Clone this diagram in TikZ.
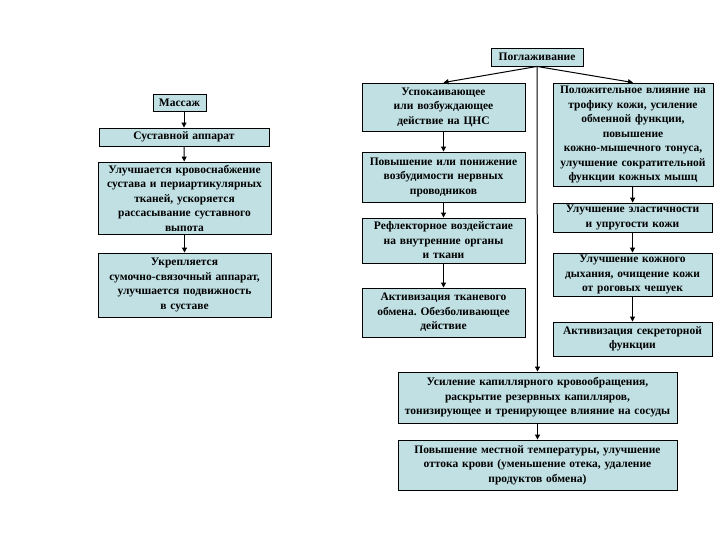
\documentclass[tikz,border=0pt]{standalone}
\usepackage{fontspec}
\setmainfont{Liberation Serif}
\usepackage{tikz}
\usetikzlibrary{arrows.meta}
\definecolor{boxfill}{RGB}{192,224,228}
\frenchspacing

\begin{document}
\begin{tikzpicture}[x=1pt,y=-1pt]
\tikzset{blok/.style={draw=black, fill=boxfill, line width=0.9pt, align=center,
  inner xsep=1pt, inner ysep=1pt, font=\fontsize{11.5}{14.5}\selectfont\bfseries},
  strelka/.style={line width=1pt, -{Triangle[length=5pt,width=5pt]}}}
\useasboundingbox (0,0) rectangle (720,540);
% left column
\node[blok, text width=51, minimum height=17] (massazh) at (179.5,102.5) {Массаж};
\node[blok, text width=168, minimum height=18] (sustav) at (184,137) {Суставной аппарат};
\node[blok, text width=171, minimum height=72] (krov) at (184.5,198) {Улучшается кровоснабжение\\сустава и периартикулярных\\тканей, ускоряется\\рассасывание суставного\\выпота};
\node[blok, text width=171, minimum height=64] (ukrep) at (184.5,285) {Укрепляется\\сумочно-связочный аппарат,\\улучшается подвижность\\в суставе};
% top
\node[blok, text width=90, minimum height=18] (pogl) at (537,57) {Поглаживание};
% middle column
\node[blok, text width=161, minimum height=48] (uspok) at (443.5,107) {Успокаивающее\\или возбуждающее\\действие на ЦНС};
\node[blok, text width=161, minimum height=50] (povysh) at (443.5,177) {Повышение или понижение\\возбудимости нервных\\проводников};
\node[blok, text width=161, minimum height=45] (reflex) at (443.5,240.5) {Рефлекторное воздейстаие\\на внутренние органы\\и ткани};
\node[blok, text width=161, minimum height=49] (tkan) at (443.5,312.5) {Активизация тканевого\\обмена. Обезболивающее\\действие};
% right column
\node[blok, text width=158, minimum height=103] (polozh) at (633,134.5) {Положительное влияние на\\трофику кожи, усиление\\обменной функции,\\повышение\\кожно-мышечного тонуса,\\улучшение сократительной\\функции кожных мышц};
\node[blok, text width=157, minimum height=29] (elast) at (632.5,217.5) {Улучшение эластичности\\и упругости кожи};
\node[blok, text width=157, minimum height=43] (dyh) at (632.5,274.5) {Улучшение кожного\\дыхания, очищение кожи\\от роговых чешуек};
\node[blok, text width=157, minimum height=34] (sekret) at (632.5,339) {Активизация секреторной\\функции};
% bottom
\node[blok, text width=277, minimum height=51] (kapil) at (537.5,397.5) {Усиление капиллярного кровообращения,\\раскрытие резервных капилляров,\\тонизирующее и тренирующее влияние на сосуды};
\node[blok, text width=277, minimum height=50] (temp) at (537.5,465) {Повышение местной температуры, улучшение\\оттока крови (уменьшение отека, удаление\\продуктов обмена)};
% arrows
\draw[strelka] (sustav.north |- massazh.south) -- (sustav.north);
\draw[strelka] (sustav) -- (krov);
\draw[strelka] (krov) -- (ukrep);
\draw[strelka] (pogl.south) -- (uspok.north);
\draw[strelka] (pogl.south) -- (polozh.north);
\draw[strelka] (pogl.south) -- (kapil.north);
\draw[strelka] (uspok) -- (povysh);
\draw[strelka] (povysh) -- (reflex);
\draw[strelka] (reflex) -- (tkan);
\draw[strelka] (polozh) -- (elast);
\draw[strelka] (elast) -- (dyh);
\draw[strelka] (dyh) -- (sekret);
\draw[strelka] (kapil) -- (temp);
\end{tikzpicture}
\end{document}
